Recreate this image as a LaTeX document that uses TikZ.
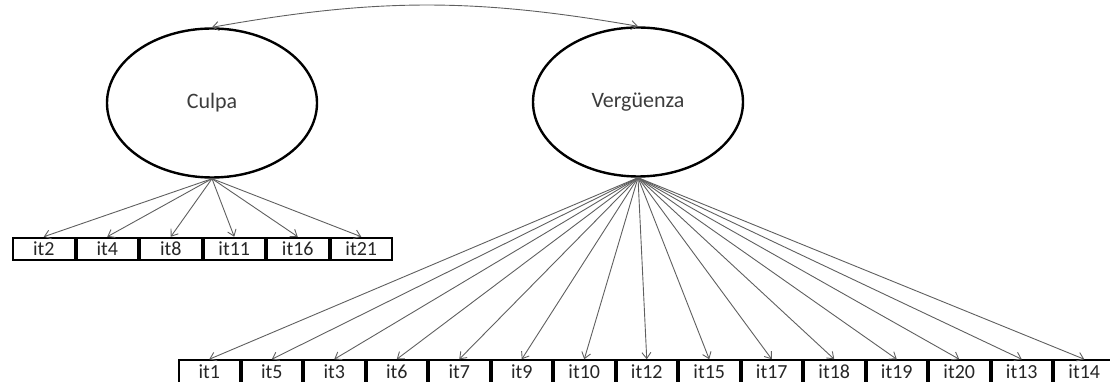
\documentclass[tikz,border=0pt]{standalone}
\usepackage{fontspec}
\setmainfont{Carlito}
\usetikzlibrary{arrows.meta,positioning,shapes.geometric}
\definecolor{linegray}{RGB}{95,95,95}
\definecolor{textgray}{RGB}{60,60,60}
\tikzset{
  factor/.style={
    ellipse,
    draw=black,
    line width=2.4pt,
    minimum width=210pt,
    minimum height=149pt,
    inner sep=0pt,
    text=textgray,
    font=\fontsize{22}{24}\selectfont
  },
  item/.style={
    rectangle,
    draw=black,
    line width=2pt,
    minimum width=60.5pt,
    minimum height=22.5pt,
    inner sep=0pt,
    text=black!85,
    font=\fontsize{20}{22}\selectfont
  },
  citem/.style={item, minimum width=61.5pt},
  load/.style={-{Straight Barb[length=6pt,width=9pt]}, draw=linegray, line width=0.9pt},
  cov/.style={{Straight Barb[length=6pt,width=9pt]}-{Straight Barb[length=6pt,width=9pt]}, draw=linegray, line width=0.9pt}
}

\begin{document}
\begin{tikzpicture}[x=1pt, y=1pt, node distance=0pt]
        \useasboundingbox (0,0) rectangle (1110,382);
        % latent factors
        \node[factor] (culpa) at (212,279) {Culpa};
        \node[factor] (verg) at (638,280) {Vergüenza};
        \draw[cov] (culpa.north) to[bend left=10] (verg.north);
        % Culpa items
        \node[citem, anchor=west] (it2) at (12,133) {it2};
        \node[citem, right=of it2] (it4) {it4};
        \node[citem, right=of it4] (it8) {it8};
        \node[citem, right=of it8] (it11) {it11};
        \node[citem, right=of it11] (it16) {it16};
        \node[citem, right=of it16] (it21) {it21};
        % Vergüenza items
        \node[item, anchor=west] (it1) at (178,10.5) {it1};
        \node[item, right=of it1] (it5) {it5};
        \node[item, right=of it5] (it3) {it3};
        \node[item, right=of it3] (it6) {it6};
        \node[item, right=of it6] (it7) {it7};
        \node[item, right=of it7] (it9) {it9};
        \node[item, right=of it9] (it10) {it10};
        \node[item, right=of it10] (it12) {it12};
        \node[item, right=of it12] (it15) {it15};
        \node[item, right=of it15] (it17) {it17};
        \node[item, right=of it17] (it18) {it18};
        \node[item, right=of it18] (it19) {it19};
        \node[item, right=of it19] (it20) {it20};
        \node[item, right=of it20] (it13) {it13};
        \node[item, right=of it13] (it14) {it14};
        % loadings
        \draw[load] (culpa.south) -- (it2.north);
        \draw[load] (culpa.south) -- (it4.north);
        \draw[load] (culpa.south) -- (it8.north);
        \draw[load] (culpa.south) -- (it11.north);
        \draw[load] (culpa.south) -- (it16.north);
        \draw[load] (culpa.south) -- (it21.north);
        \draw[load] (verg.south) -- (it1.north);
        \draw[load] (verg.south) -- (it5.north);
        \draw[load] (verg.south) -- (it3.north);
        \draw[load] (verg.south) -- (it6.north);
        \draw[load] (verg.south) -- (it7.north);
        \draw[load] (verg.south) -- (it9.north);
        \draw[load] (verg.south) -- (it10.north);
        \draw[load] (verg.south) -- (it12.north);
        \draw[load] (verg.south) -- (it15.north);
        \draw[load] (verg.south) -- (it17.north);
        \draw[load] (verg.south) -- (it18.north);
        \draw[load] (verg.south) -- (it19.north);
        \draw[load] (verg.south) -- (it20.north);
        \draw[load] (verg.south) -- (it13.north);
        \draw[load] (verg.south) -- (it14.north);
      \end{tikzpicture}
\end{document}
